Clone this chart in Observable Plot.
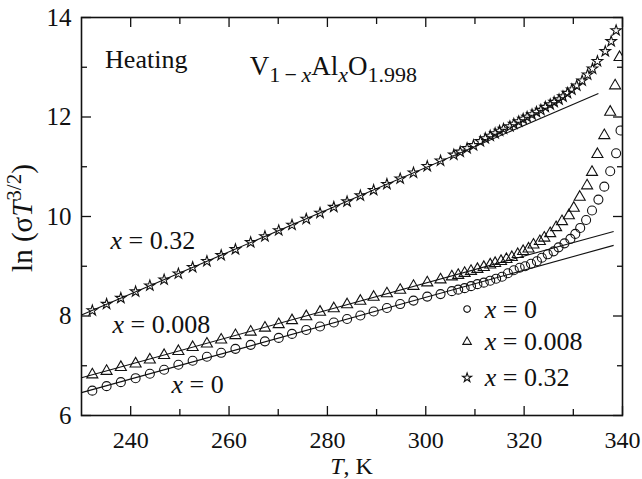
<!DOCTYPE html>
<html><head><meta charset="utf-8">
<script src="https://cdn.jsdelivr.net/npm/d3@7"></script>
<script src="https://cdn.jsdelivr.net/npm/@observablehq/plot@0.6"></script>
<style>body{margin:0;background:#fff;}</style>
</head><body><div id="chart"></div>
<script>
// ---- data ----
const cirT = [232.2,235.1,238.0,241.0,243.9,246.8,249.7,252.6,255.5,258.4,261.3,264.4,267.3,270.1,272.8,275.7,278.5,281.3,284.0,286.7,289.4,292.1,294.8,297.5,300.3,303.0,305.3,306.6,307.9,309.2,310.5,311.8,313.1,314.3,315.5,316.7,317.9,319.1,320.2,321.4,322.6,323.6,324.8,326.0,327.0,328.2,329.4,330.4,331.4,332.6,333.8,335.1,336.3,337.5,338.7,339.6];
const cirV = [6.50,6.59,6.67,6.75,6.84,6.92,7.02,7.10,7.18,7.26,7.34,7.42,7.49,7.56,7.64,7.72,7.79,7.87,7.94,8.01,8.09,8.16,8.24,8.31,8.39,8.44,8.50,8.53,8.56,8.60,8.64,8.67,8.71,8.75,8.79,8.86,8.92,8.97,9.00,9.05,9.10,9.17,9.24,9.30,9.38,9.46,9.55,9.65,9.77,9.93,10.12,10.34,10.60,10.91,11.27,11.73];
const triT = [232.2,235.1,238.0,241.0,243.9,246.8,249.7,252.6,255.5,258.4,261.3,264.4,267.3,270.1,272.8,275.7,278.5,281.3,284.0,286.7,289.4,292.1,294.8,297.5,300.3,303.0,305.3,306.6,307.9,309.2,310.5,311.8,313.1,314.1,315.3,316.4,317.5,318.7,319.8,320.9,321.9,323.2,324.1,325.3,326.5,327.7,329.1,330.1,331.3,332.8,333.8,334.9,336.3,337.5,338.5,339.4];
const triV = [6.82,6.89,6.97,7.04,7.12,7.21,7.29,7.37,7.44,7.52,7.61,7.68,7.76,7.83,7.91,7.99,8.08,8.15,8.23,8.30,8.38,8.45,8.52,8.60,8.67,8.73,8.79,8.82,8.86,8.90,8.94,8.98,9.03,9.06,9.10,9.14,9.18,9.24,9.30,9.35,9.43,9.50,9.57,9.66,9.78,9.90,10.02,10.17,10.39,10.62,10.89,11.25,11.63,12.10,12.63,13.20];
const starT = [232.2,235.1,238.0,241.0,243.9,246.8,249.7,252.6,255.5,258.4,261.3,264.4,267.3,270.1,272.8,275.7,278.5,281.3,284.0,286.7,289.4,292.1,294.8,297.5,300.3,303.0,305.7,307.0,308.4,309.7,311.1,312.1,313.1,314.1,315.0,315.8,317.1,317.9,318.9,319.8,320.6,321.6,322.5,323.4,324.3,325.3,326.1,327.1,327.9,328.8,329.7,330.7,331.8,332.9,333.9,334.9,336.5,337.7,338.7];
const starV = [8.11,8.24,8.36,8.49,8.61,8.73,8.85,8.98,9.10,9.22,9.34,9.48,9.60,9.72,9.83,9.95,10.07,10.19,10.30,10.42,10.53,10.65,10.76,10.88,11.01,11.12,11.24,11.30,11.37,11.43,11.51,11.57,11.62,11.67,11.72,11.76,11.81,11.86,11.91,11.96,12.00,12.05,12.10,12.14,12.20,12.25,12.30,12.35,12.41,12.48,12.55,12.63,12.73,12.85,12.97,13.12,13.32,13.52,13.74];

// linear fits (start / end)
const fitNames = ["0", "0.008", "0.32"];
const fitT0 = [230, 230, 230];
const fitV0 = [6.46, 6.76, 8.02];
const fitT1 = [338.2, 338.2, 335.1];
const fitV1 = [9.42, 9.70, 12.47];

// ticks
const xMajor = [240, 260, 280, 300, 320, 340];
const xMinor = [250, 270, 290, 310, 330];
const yMajor = [6, 8, 10, 12, 14];
const yMinor = [7, 9, 11, 13];

const seriesNames = ["0", "0.008", "0.32"];
const seriesSymbols = ["circle", "triangle", "star"];
const seriesR = [4.5, 4.1, 3.3];

// ---- build tables ----
const toRows = (T, V) => T.map((t, i) => ({T: t, V: V[i]}));
const cir = toRows(cirT, cirV), tri = toRows(triT, triV), star = toRows(starT, starV);
const fits = fitNames.map((n, i) => ({n, t0: fitT0[i], v0: fitV0[i], t1: fitT1[i], v1: fitV1[i]}));

// layout anchors (data units) for annotations
const legendT = 308.4, legendTextT = 312.1, legendV = [8.14, 7.48, 6.76];
const FONT = "'Liberation Serif', 'Times New Roman', serif";

const dotStyle = {stroke: "#111", fill: "none", strokeWidth: 1.1, clip: true};
const tickStyle = {text: null, strokeWidth: 1.3};

const chart = Plot.plot({
  width: 642, height: 479,
  marginLeft: 81, marginRight: 20, marginTop: 17, marginBottom: 64,
  style: {fontFamily: FONT, fontSize: "25px", color: "#111", background: "#fff", overflow: "visible"},
  x: {domain: [230, 340]},
  y: {domain: [6, 14]},
  marks: [
    Plot.link(fits, {x1: "t0", y1: "v0", x2: "t1", y2: "v1", stroke: "#111", strokeWidth: 1.1}),
    Plot.dot(cir, {x: "T", y: "V", symbol: "circle", r: seriesR[0], ...dotStyle}),
    Plot.dot(tri, {x: "T", y: "V", symbol: "triangle", r: seriesR[1], ...dotStyle}),
    Plot.dot(star, {x: "T", y: "V", symbol: "star", r: seriesR[2], ...dotStyle}),
    // legend symbols
    Plot.dot(seriesNames, {x: () => legendT, y: (d, i) => legendV[i], symbol: (d, i) => seriesSymbols[i], r: (d, i) => seriesR[i], stroke: "#111", fill: "none", strokeWidth: 1.1}),
    // tick marks, inward on all four sides
    Plot.axisX(xMajor, {anchor: "bottom", tickSize: -9, ...tickStyle}),
    Plot.axisX(xMinor, {anchor: "bottom", tickSize: -6, ...tickStyle}),
    Plot.axisX(xMajor, {anchor: "top", tickSize: -9, ...tickStyle}),
    Plot.axisX(xMinor, {anchor: "top", tickSize: -6, ...tickStyle}),
    Plot.axisY(yMajor, {anchor: "left", tickSize: -10, ...tickStyle}),
    Plot.axisY(yMinor, {anchor: "left", tickSize: -6, ...tickStyle}),
    Plot.axisY(yMajor, {anchor: "right", tickSize: -10, ...tickStyle}),
    Plot.axisY(yMinor, {anchor: "right", tickSize: -6, ...tickStyle}),
    // tick labels
    Plot.axisX(xMajor, {anchor: "bottom", tickSize: 0, tickPadding: 15, label: null, fontSize: 24, fontFamily: FONT, tickFormat: d3.format("d"), fill: "#111"}),
    Plot.axisY(yMajor, {anchor: "left", tickSize: 0, tickPadding: 10, label: null, fontSize: 25, fontFamily: FONT, tickFormat: d3.format("d"), fill: "#111"}),
    Plot.frame({stroke: "#111", strokeWidth: 1.6})
  ]
});
document.getElementById("chart").appendChild(chart);

const sx = chart.scale("x"), sy = chart.scale("y");
const svg = d3.select(chart);

function addText(x, y, parts, opts = {}) {
  const t = svg.append("text")
    .attr("x", x).attr("y", y)
    .attr("font-size", opts.size || 26)
    .attr("fill", "#111")
    .attr("text-anchor", opts.anchor || "start");
  if (opts.rotate) t.attr("transform", `rotate(-90 ${x} ${y})`);
  let shift = 0;
  for (const p of parts) {
    const s = t.append("tspan").text(p.t);
    if (p.i) s.attr("font-style", "italic");
    const target = p.sub ? (opts.subShift || 6) : p.sup ? -(opts.supShift || 10) : 0;
    if (target !== shift) { s.attr("dy", target - shift); shift = target; }
    if (p.sub || p.sup) s.attr("font-size", opts.subSize || 18);
  }
  return t;
}

// annotations
addText(sx.apply(234.9), sy.apply(12.97), [{t: "Heating"}]);
addText(sx.apply(264.3), sy.apply(12.83), [
  {t: "V"}, {t: "1\u2009\u2212\u2009", sub: true}, {t: "x", sub: true, i: true},
  {t: "Al"}, {t: "x", sub: true, i: true}, {t: "O"}, {t: "1.998", sub: true}
], {size: 27, subSize: 22, subShift: 7});
addText(sx.apply(236.0), sy.apply(9.33), [{t: "x", i: true}, {t: " = 0.32"}]);
addText(sx.apply(236.4), sy.apply(7.64), [{t: "x", i: true}, {t: " = 0.008"}]);
addText(sx.apply(248.4), sy.apply(6.45), [{t: "x", i: true}, {t: " = 0"}]);
// legend text
seriesNames.forEach((n, i) => {
  addText(sx.apply(legendTextT), sy.apply(legendV[i]) + 9, [{t: "x", i: true}, {t: " = " + n}]);
});
// axis titles
addText(sx.apply(285), sy.apply(6) + 59, [{t: "T", i: true}, {t: ", K"}], {anchor: "middle", size: 24});
addText(32, (sy.apply(6) + sy.apply(14)) / 2 + 2, [
  {t: "ln (\u03c3"}, {t: "T", i: true}, {t: "3/2", sup: true}, {t: ")"}
], {anchor: "middle", rotate: true, size: 29, subSize: 21, supShift: 11});

// force the serif face on every text
svg.selectAll("text").style("font-family", FONT);
</script>
</body></html>
